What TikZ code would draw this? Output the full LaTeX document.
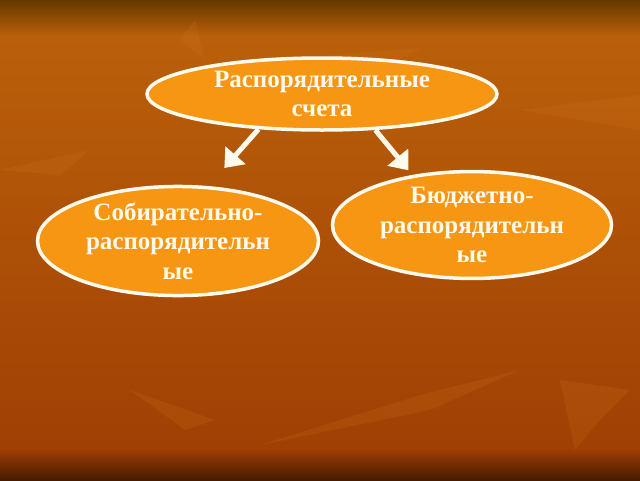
\documentclass[tikz,border=0pt]{standalone}
\usepackage{fontspec}
\setmainfont{Liberation Serif}
\usepackage{xcolor}
\definecolor{bgtop}{RGB}{100,56,0}
\definecolor{bgmid}{RGB}{186,96,10}
\definecolor{bglow}{RGB}{160,64,4}
\definecolor{bgbot}{RGB}{72,26,0}
\definecolor{leaf}{RGB}{214,124,30}
\definecolor{oval}{RGB}{247,150,18}
\definecolor{cream}{RGB}{255,250,236}
\usepackage{tikz}
\usetikzlibrary{calc}
\usetikzlibrary{backgrounds}
\usetikzlibrary{shapes,arrows,arrows.meta,positioning}

\begin{document}
\begin{tikzpicture}[x=1pt,y=-1pt,
    oval/.style={ellipse,draw=cream,line width=3.5pt,fill=oval,text=cream,
        align=center,inner sep=0pt,font=\bfseries\fontsize{25}{29.5}\selectfont},
    link/.style={draw=cream,line width=5pt,-{Triangle[length=17pt,width=26pt]}},
    leafy/.style={fill=leaf,draw=none,opacity=0.16}]
        \useasboundingbox (0,0) rectangle (640,480);

        % background
        \shade[top color=bgtop,bottom color=bgmid] (0,0) rectangle (640,36);
        \shade[top color=bgmid,bottom color=bglow] (0,36) rectangle (640,448);
        \shade[top color=bglow,bottom color=bgbot] (0,448) rectangle (640,480);
        \fill[leafy] (270,60) -- (420,48) -- (395,62) -- (300,78) -- cycle;
        \fill[leafy] (180,40) -- (195,20) -- (205,60) -- cycle;
        \fill[leafy] (560,380) -- (630,390) -- (600,420) -- (575,450) -- cycle;
        \fill[leafy] (260,445) -- (420,395) -- (520,370) -- (430,410) -- cycle;
        \fill[leafy] (130,390) -- (215,420) -- (185,430) -- cycle;
        \fill[leafy] (0,170) -- (90,150) -- (60,175) -- cycle;
        \fill[leafy] (520,110) -- (640,95) -- (640,130) -- cycle;

        \node[oval,minimum width=350pt,minimum height=72pt] (acc) at (322,94)
            {Распорядительные\\счета};
        \node[oval,minimum width=281pt,minimum height=102pt] (col) at (178,241)
            {Собирательно-\\распорядительн\\ые};
        \node[oval,minimum width=279pt,minimum height=106pt] (bud) at (472,225)
            {Бюджетно-\\распорядительн\\ые};

        \draw[link,shorten >=24pt] (acc.209) -- (col.61);
        \draw[link,shorten >=6pt] (acc.326) -- (bud.140);
    \end{tikzpicture}
\end{document}
